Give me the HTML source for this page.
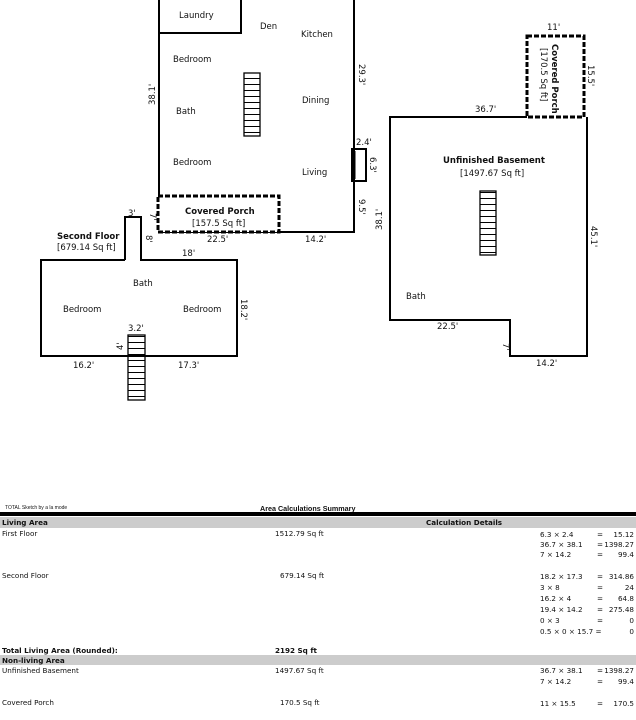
<!DOCTYPE html>
<html><head><style>
body{margin:0;background:#fff;width:636px;height:720px;overflow:hidden}
svg{display:block}
text{font-family:"DejaVu Sans","Liberation Sans",sans-serif;fill:#111}
.s{font-size:8.5px}
.b{font-size:8.5px;font-weight:bold}
.t{font-size:7.2px;font-family:"Liberation Sans",sans-serif}
.tb{font-size:7.2px;font-family:"Liberation Sans",sans-serif;font-weight:bold}
</style></head><body>
<svg width="636" height="720" viewBox="0 0 636 720">
<defs>
<pattern id="st" width="16" height="6" patternUnits="userSpaceOnUse"><line x1="0" y1="0.5" x2="16" y2="0.5" stroke="#000" stroke-width="1"/></pattern>
</defs>
<g fill="none" stroke="#000" stroke-width="2">
<polyline points="159,0 159,232 354,232 354,0"/>
<polyline points="159,33 241,33 241,0"/>
<rect x="352" y="149" width="14" height="32"/>
<line x1="355" y1="151" x2="355" y2="179" stroke-width="1"/>
<polyline points="125,260 125,217 141,217 141,260 237,260 237,356 41,356 41,260 125,260"/>
<polyline points="527,117 390,117 390,320 510,320 510,356 587,356 587,117"/>
</g>
<g fill="#fff" stroke="#000" stroke-width="3" stroke-dasharray="5,2">
<rect x="158" y="196" width="121" height="36"/>
<rect x="527" y="36" width="57" height="81"/>
</g>
<g stroke="#000" stroke-width="1.3">
<rect x="244" y="73" width="16" height="63" fill="url(#st)"/>
<rect x="128" y="335" width="17" height="65" fill="url(#st)"/>
<rect x="480" y="191" width="16" height="64" fill="url(#st)"/>
</g>
<g class="s">
<text x="179" y="18">Laundry</text>
<text x="260" y="29">Den</text>
<text x="301" y="37">Kitchen</text>
<text x="173" y="62">Bedroom</text>
<text x="176" y="114">Bath</text>
<text x="302" y="103">Dining</text>
<text x="173" y="165">Bedroom</text>
<text x="302" y="175">Living</text>
<text x="356" y="145">2.4'</text>
<text x="207" y="242">22.5'</text>
<text x="305" y="242">14.2'</text>
<text x="128" y="216">3'</text>
<text x="182" y="256">18'</text>
<text x="133" y="286">Bath</text>
<text x="63" y="312">Bedroom</text>
<text x="183" y="312">Bedroom</text>
<text x="128" y="331">3.2'</text>
<text x="73" y="368">16.2'</text>
<text x="178" y="368">17.3'</text>
<text x="547" y="30">11'</text>
<text x="475" y="112">36.7'</text>
<text x="460" y="176">[1497.67 Sq ft]</text>
<text x="406" y="299">Bath</text>
<text x="437" y="329">22.5'</text>
<text x="536" y="366">14.2'</text>
<text x="192" y="226">[157.5 Sq ft]</text>
<text x="57" y="250">[679.14 Sq ft]</text>
</g>
<g class="b">
<text x="185" y="214">Covered Porch</text>
<text x="57" y="239">Second Floor</text>
<text x="443" y="163">Unfinished Basement</text>
</g>
<g class="s">
<text transform="translate(155,105) rotate(-90)">38.1'</text>
<text transform="translate(359,64) rotate(90)">29.3'</text>
<text transform="translate(370,157) rotate(90)">6.3'</text>
<text transform="translate(359,199) rotate(90)">9.5'</text>
<text transform="translate(150,213) rotate(90)">7'</text>
<text transform="translate(146,235) rotate(90)">8'</text>
<text transform="translate(241,299) rotate(90)">18.2'</text>
<text transform="translate(123,350) rotate(-90)">4'</text>
<text transform="translate(382,230) rotate(-90)">38.1'</text>
<text transform="translate(591,226) rotate(90)">45.1'</text>
<text transform="translate(588,65) rotate(90)">15.5'</text>
<text transform="translate(503,343) rotate(90)">7'</text>
<text transform="translate(541,48) rotate(90)">[170.5 Sq ft]</text>
<text class="b" transform="translate(552,44) rotate(90)">Covered Porch</text>
</g>
<text x="5" y="509" style="font-size:5px;font-family:'Liberation Sans',sans-serif">TOTAL Sketch by a la mode</text>
<text x="260" y="511" class="tb">Area Calculations Summary</text>
<rect x="0" y="512" width="636" height="4" fill="#000"/>
<rect x="0" y="517" width="636" height="11" fill="#ccc"/>
<rect x="0" y="655" width="636" height="10" fill="#ccc"/>
<g class="tb">
<text x="2" y="525">Living Area</text>
<text x="426" y="525">Calculation Details</text>
<text x="2" y="653">Total Living Area (Rounded):</text>
<text x="275" y="653">2192 Sq ft</text>
<text x="2" y="663">Non-living Area</text>
</g>
<g class="t">
<text x="2" y="536">First Floor</text><text x="275" y="536">1512.79 Sq ft</text>
<text x="2" y="578">Second Floor</text><text x="280" y="578">679.14 Sq ft</text>
<text x="2" y="673">Unfinished Basement</text><text x="275" y="673">1497.67 Sq ft</text>
<text x="2" y="705">Covered Porch</text><text x="280" y="705">170.5 Sq ft</text>
</g>
<g class="t">
<text x="540" y="537">6.3 × 2.4</text><text x="597" y="537">=</text><text x="634" y="537" text-anchor="end">15.12</text>
<text x="540" y="547">36.7 × 38.1</text><text x="597" y="547">=</text><text x="634" y="547" text-anchor="end">1398.27</text>
<text x="540" y="557">7 × 14.2</text><text x="597" y="557">=</text><text x="634" y="557" text-anchor="end">99.4</text>
<text x="540" y="579">18.2 × 17.3</text><text x="597" y="579">=</text><text x="634" y="579" text-anchor="end">314.86</text>
<text x="540" y="590">3 × 8</text><text x="597" y="590">=</text><text x="634" y="590" text-anchor="end">24</text>
<text x="540" y="601">16.2 × 4</text><text x="597" y="601">=</text><text x="634" y="601" text-anchor="end">64.8</text>
<text x="540" y="612">19.4 × 14.2</text><text x="597" y="612">=</text><text x="634" y="612" text-anchor="end">275.48</text>
<text x="540" y="623">0 × 3</text><text x="597" y="623">=</text><text x="634" y="623" text-anchor="end">0</text>
<text x="540" y="634">0.5 × 0 × 15.7 =</text><text x="634" y="634" text-anchor="end">0</text>
<text x="540" y="673">36.7 × 38.1</text><text x="597" y="673">=</text><text x="634" y="673" text-anchor="end">1398.27</text>
<text x="540" y="684">7 × 14.2</text><text x="597" y="684">=</text><text x="634" y="684" text-anchor="end">99.4</text>
<text x="540" y="706">11 × 15.5</text><text x="597" y="706">=</text><text x="634" y="706" text-anchor="end">170.5</text>
</g>
</svg>
</body></html>
